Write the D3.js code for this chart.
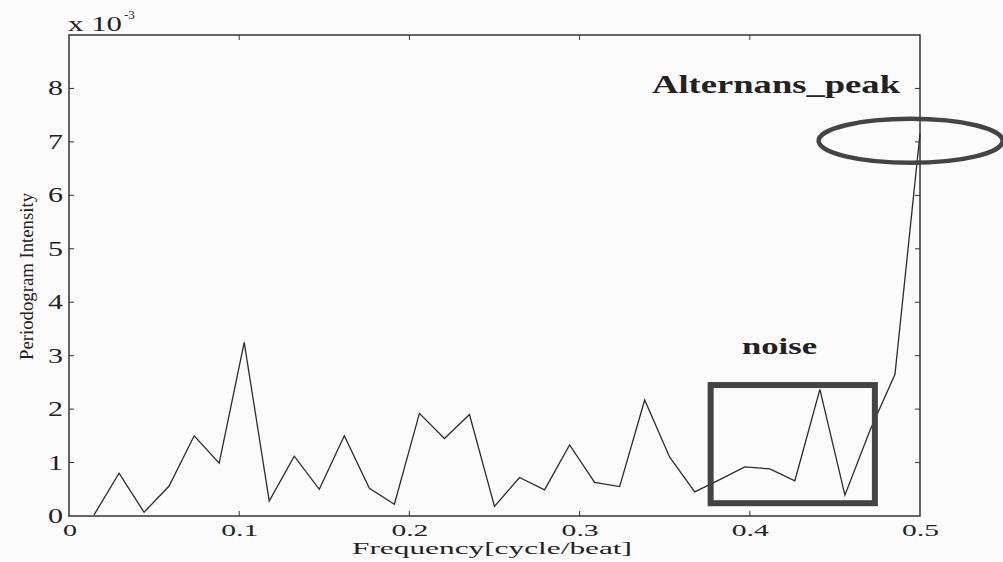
<!DOCTYPE html>
<html>
<head>
<meta charset="utf-8">
<script src="https://cdn.jsdelivr.net/npm/d3@7"></script>
<style>
  body { margin: 0; background: #fbfbfb; }
  svg { display: block; }
  text { font-family: "Liberation Serif", "Times New Roman", serif; fill: #222; }
</style>
</head>
<body>
<svg></svg>
<script>
// Width and height of the page
var width = 1003;
var height = 562;

// periodogram bins: k/68 cycle/beat, k = 1..34
var binCount = 68;
var intensity = [0.02, 0.8, 0.07, 0.56, 1.5, 0.99, 3.25, 0.28, 1.12, 0.5,
                 1.5, 0.52, 0.22, 1.92, 1.45, 1.9, 0.18, 0.72, 0.49, 1.33,
                 0.63, 0.55, 2.17, 1.1, 0.45, 0.68, 0.92, 0.88, 0.66, 2.37,
                 0.39, 1.6, 2.65, 7.15];   // x 10^-3

var xTicks = [0, 0.1, 0.2, 0.3, 0.4, 0.5];
var yTicks = [0, 1, 2, 3, 4, 5, 6, 7, 8];

var data = intensity.map(function(v, i) {
    return { f: (i + 1) / binCount, v: v };
});

// scales - plot box runs 69..920 by 35..516
var x = d3.scaleLinear().domain([0, 0.5]).range([69, 920]);
var y = d3.scaleLinear().domain([0, 9]).range([516, 35]);

var svg = d3.select("svg")
    .attr("width", width)
    .attr("height", height);

var axisColor = "#333";

// plot box
svg.append("rect")
    .attr("x", x(0))
    .attr("y", y(9))
    .attr("width", x(0.5) - x(0))
    .attr("height", y(0) - y(9))
    .attr("fill", "none")
    .attr("stroke", axisColor)
    .attr("stroke-width", 1.5);

// inward ticks on all four sides (matlab style)
var tickLen = 5;
svg.append("g").selectAll("line")
    .data(xTicks.slice(1, -1))
    .enter().append("line")
    .attr("x1", function(d) { return x(d); })
    .attr("x2", function(d) { return x(d); })
    .attr("y1", y(0))
    .attr("y2", y(0) - tickLen)
    .attr("stroke", axisColor);
svg.append("g").selectAll("line")
    .data(xTicks.slice(1, -1))
    .enter().append("line")
    .attr("x1", function(d) { return x(d); })
    .attr("x2", function(d) { return x(d); })
    .attr("y1", y(9))
    .attr("y2", y(9) + tickLen)
    .attr("stroke", axisColor);
svg.append("g").selectAll("line")
    .data(yTicks.slice(1))
    .enter().append("line")
    .attr("x1", x(0))
    .attr("x2", x(0) + tickLen)
    .attr("y1", function(d) { return y(d); })
    .attr("y2", function(d) { return y(d); })
    .attr("stroke", axisColor);
svg.append("g").selectAll("line")
    .data(yTicks.slice(1))
    .enter().append("line")
    .attr("x1", x(0.5))
    .attr("x2", x(0.5) - tickLen)
    .attr("y1", function(d) { return y(d); })
    .attr("y2", function(d) { return y(d); })
    .attr("stroke", axisColor);

// tick labels - the scan is stretched sideways so widths are forced
svg.append("g").selectAll("text")
    .data(xTicks)
    .enter().append("text")
    .attr("x", function(d) { return d == 0 ? x(d) - 6 : x(d) - 18; })
    .attr("y", 536)
    .attr("textLength", function(d) { return d == 0 ? 14 : 37; })
    .attr("lengthAdjust", "spacingAndGlyphs")
    .style("font-size", "16px")
    .text(function(d) { return d == 0 ? "0" : d3.format(".1f")(d); });

svg.append("g").selectAll("text")
    .data(yTicks)
    .enter().append("text")
    .attr("x", 48)
    .attr("y", function(d) { return y(d) + 7; })
    .attr("textLength", 15)
    .attr("lengthAdjust", "spacingAndGlyphs")
    .style("font-size", "21px")
    .text(function(d) { return d; });

// exponent label
svg.append("text")
    .attr("x", 68)
    .attr("y", 31)
    .attr("textLength", 54)
    .attr("lengthAdjust", "spacingAndGlyphs")
    .style("font-size", "20px")
    .text("x 10");
svg.append("text")
    .attr("x", 124)
    .attr("y", 19)
    .style("font-size", "13px")
    .text("-3");

// axis titles
svg.append("text")
    .attr("x", 352)
    .attr("y", 554)
    .attr("textLength", 280)
    .attr("lengthAdjust", "spacingAndGlyphs")
    .style("font-size", "17px")
    .text("Frequency[cycle/beat]");

svg.append("text")
    .attr("transform", "translate(33,360) rotate(-90)")
    .attr("textLength", 167)
    .attr("lengthAdjust", "spacingAndGlyphs")
    .style("font-size", "19px")
    .text("Periodogram Intensity");

// the periodogram trace
var line = d3.line()
    .x(function(d) { return x(d.f); })
    .y(function(d) { return y(d.v); });

svg.append("path")
    .datum(data)
    .attr("d", line)
    .attr("fill", "none")
    .attr("stroke", "#2b2b2b")
    .attr("stroke-width", 1.3)
    .attr("stroke-linejoin", "miter");

// annotations
var noiseBox = { f0: 0.377, f1: 0.4735, v0: 0.24, v1: 2.45 };
svg.append("rect")
    .attr("x", x(noiseBox.f0))
    .attr("y", y(noiseBox.v1))
    .attr("width", x(noiseBox.f1) - x(noiseBox.f0))
    .attr("height", y(noiseBox.v0) - y(noiseBox.v1))
    .attr("fill", "none")
    .attr("stroke", "#444")
    .attr("stroke-width", 6);

svg.append("text")
    .attr("x", 742)
    .attr("y", 354)
    .attr("textLength", 75)
    .attr("lengthAdjust", "spacingAndGlyphs")
    .attr("font-weight", "bold")
    .style("font-size", "23px")
    .text("noise");

svg.append("ellipse")
    .attr("cx", x(0.4945))
    .attr("cy", y(7.02))
    .attr("rx", 92)
    .attr("ry", 22)
    .attr("fill", "none")
    .attr("stroke", "#444")
    .attr("stroke-width", 4.5);

svg.append("text")
    .attr("x", 652)
    .attr("y", 93)
    .attr("textLength", 248)
    .attr("lengthAdjust", "spacingAndGlyphs")
    .attr("font-weight", "bold")
    .style("font-size", "26px")
    .text("Alternans_peak");
</script>
</body>
</html>
